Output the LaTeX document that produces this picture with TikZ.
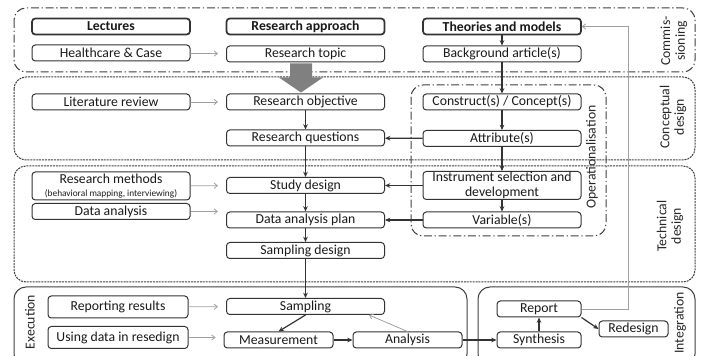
\documentclass[tikz,border=0pt]{standalone}
\usepackage{fontspec}
\setmainfont{Carlito}
\usetikzlibrary{positioning,arrows.meta,calc}
\definecolor{boxline}{HTML}{333333}
\definecolor{feedgray}{HTML}{A0A0A0}
\definecolor{bigarrow}{HTML}{808080}
\definecolor{zoneline}{HTML}{3F3F3F}

\begin{document}
\begin{tikzpicture}[x=0.75pt, y=-0.75pt, font=\fontsize{10.3}{11}\selectfont,
    box/.style={draw=boxline, rounded corners=2.5pt, line width=0.75pt, minimum width=118.5pt, minimum height=12pt, inner sep=1pt, text=black!90},
    headbox/.style={box, line width=1.3pt, font=\fontsize{10.3}{11}\selectfont\bfseries},
    flow/.style={-{Stealth[length=4pt,width=3.5pt]}, line width=0.9pt, boxline},
    feed/.style={-{Straight Barb[length=2.5pt,width=4pt]}, feedgray, line width=0.6pt, shorten >=6pt},
    zone/.style={zoneline, rounded corners=9pt, line width=0.75pt},
    dashdotline/.style={dash pattern=on 6pt off 2pt on 1pt off 2pt},
    finedash/.style={dash pattern=on 1.5pt off 0.7pt},
    zonelabel/.style={rotate=90, align=center, text=black!85}]
    \useasboundingbox (0,0) rectangle (708,356);

    % phases
    \draw[zone, dashdotline] (14,8) rectangle (695,72);
    \draw[zone, finedash] (14,77) rectangle (695,160);
    \draw[zone, finedash] (14,166) rectangle (695,282);
    \draw[zone] (14,287) rectangle (467,366);
    \draw[zone] (478,287) rectangle (695,366);
    \draw[zone, dashdotline] (411,85) rectangle (606,236);

    \node[zonelabel] at (674,41) {Commis-\\sioning};
    \node[zonelabel] at (673,117) {Conceptual\\design};
    \node[zonelabel] at (670,226) {Technical\\design};
    \node[zonelabel] at (592,157) {Operationalisation};
    \node[zonelabel] at (30,322) {Execution};
    \node[zonelabel] at (680,323) {Integration};

    % columns
    \node[headbox] (lectures) at (111,26.5) {Lectures};
    \node[headbox] (approach) at (305.5,26.5) {Research approach};
    \node[headbox] (theories) at (502,26.5) {Theories and models};

    \node[box] (health) at (111,53) {Healthcare \& Case};
    \node[box] (topic) at (305.5,54) {Research topic};
    \node[box] (background) at (502,54) {Background article(s)};

    \node[box] (litrev) at (111,102) {Literature review};
    \node[box] (objective) at (305.5,102) {Research objective};
    \node[box] (construct) at (502,102) {Construct(s) / Concept(s)};
    \node[box] (questions) at (305.5,138) {Research questions};
    \node[box] (attribute) at (502,138.5) {Attribute(s)};

    \node[box, minimum height=21pt, align=center, inner sep=0.5pt] (methods) at (111,186) {Research methods\\[-1pt]{\fontsize{7}{8}\selectfont(behavioral mapping, interviewing)}};
    \node[box] (dataan) at (111,211.5) {Data analysis};
    \node[box] (study) at (305.5,185.5) {Study design};
    \node[box, minimum height=21pt, align=center, inner sep=0.5pt] (instrument) at (502,185.5) {Instrument selection and\\development};
    \node[box] (plan) at (305.5,220) {Data analysis plan};
    \node[box] (variable) at (502,220) {Variable(s)};
    \node[box] (sampdesign) at (305.5,250.5) {Sampling design};

    \node[box, minimum width=105pt, minimum height=16.5pt] (reporting) at (118,307) {Reporting results};
    \node[box, minimum width=105pt, minimum height=16.5pt] (usingdata) at (118,337.5) {Using data in resedign};
    \node[box] (sampling) at (305.5,306.5) {Sampling};
    \node[box, minimum width=81.75pt] (measurement) at (278.5,340) {Measurement};
    \node[box, minimum width=81.75pt] (analysis) at (407.5,340) {Analysis};

    \node[box, minimum width=63pt] (report) at (539,309) {Report};
    \node[box, minimum width=63pt] (synthesis) at (539,340) {Synthesis};
    \node[box, minimum width=51.75pt] (redesign) at (633.5,329) {Redesign};

    % big arrow topic -> objective
    \fill[bigarrow] ($(topic.south)+(-15.5,1)$) -- ++(22,0) -- ++(0,14) -- ++(11,0)
        -- ($(topic.south)+(-4.5,30)$) -- ($(topic.south)+(-26.5,15)$) -- ++(11,0) -- cycle;

    % inputs
    \draw[feed] (health) -- (topic);
    \draw[feed] (litrev) -- (objective);
    \draw[feed] (methods) -- (study);
    \draw[feed] (dataan.east) -- (dataan.east -| plan.west);
    \draw[feed] (reporting) -- (sampling);
    \draw[feed] (usingdata.east) -- (usingdata.east -| measurement.west);

    % main flow
    \draw[flow] (theories) -- (background);
    \draw[flow] (background) -- (construct);
    \draw[flow] (construct) -- (attribute);
    \draw[flow] (attribute) -- (questions);
    \draw[flow] (attribute) -- (instrument);
    \draw[flow] (instrument) -- (study);
    \draw[flow] (instrument) -- (variable);
    \draw[flow] (variable) -- (plan);
    \draw[flow] (objective) -- (questions);
    \draw[flow] (questions) -- (study);
    \draw[flow] (study) -- (plan);
    \draw[flow] (plan) -- (sampdesign);
    \draw[flow] (sampdesign) -- (sampling);
    \draw[flow] (sampling.south) -- (measurement.north);
    \draw[flow] (measurement) -- (analysis);
    \draw[feed, shorten >=0pt] (analysis.north) -- ($(sampling.south)!0.8!(sampling.south east)$);
    \draw[flow] (analysis) -- (synthesis);
    \draw[flow] (synthesis) -- (report);
    \draw[flow] (report.south east) -- (redesign.west);

    % feedback to theories
    \coordinate (back) at (628,26.5);
    \draw[feed, shorten >=0pt] (report.east) -| (back) -- (theories.east);
\end{tikzpicture}
\end{document}
